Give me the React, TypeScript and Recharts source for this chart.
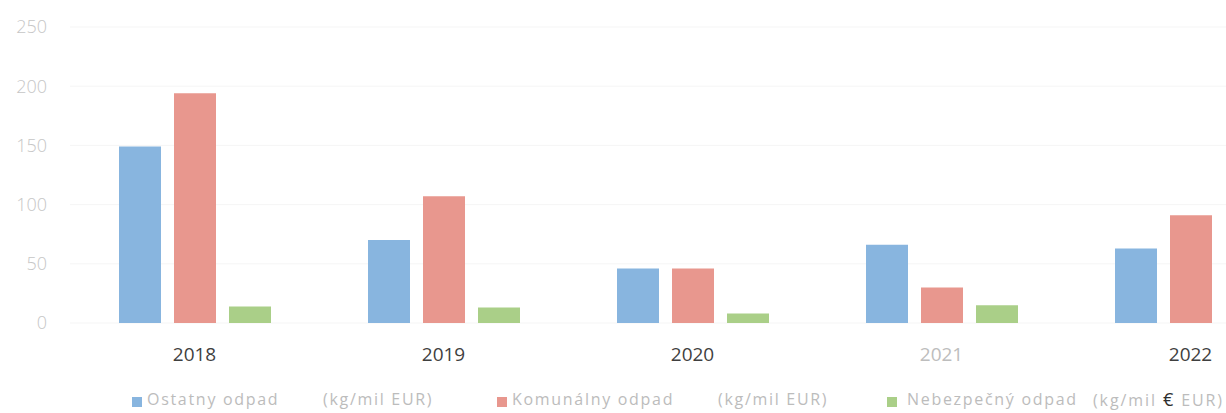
import { BarChart, Bar, XAxis, YAxis, CartesianGrid } from "recharts";

const years = ["2018", "2019", "2020", "2021", "2022"];
const ostatny = [149, 70, 46, 66, 63];
const komunalny = [194, 107, 46, 30, 91];
const nebezpecny = [14, 13, 8, 15, 0];
const yTicks = [0, 50, 100, 150, 200, 250];

const data = years.map((year, i) => ({
    year,
    ostatny: ostatny[i],
    komunalny: komunalny[i],
    nebezpecny: nebezpecny[i] || null,
}));

const colors = { ostatny: "#88b5df", komunalny: "#e8978e", nebezpecny: "#aacf88" };
const font = "'Open Sans', sans-serif";

// scan makes one label paler than the others
const yearColor = (y: string) => (y === "2021" ? "#bdbdbd" : "#3f3f3f");

const YearTick = ({ x, y, payload }: any) => (
    <text x={x} y={y} dy={12} textAnchor="middle" fill={yearColor(payload.value)} fontSize={19} fontFamily={font}>
        {payload.value}
    </text>
);

const legendItems = [
    { key: "ostatny", name: "Ostatny odpad", left: 132, textLeft: 147, unitLeft: 323 },
    { key: "komunalny", name: "Komunálny odpad", left: 497, textLeft: 512, unitLeft: 718 },
    { key: "nebezpecny", name: "Nebezpečný odpad", left: 887, textLeft: 907, unitLeft: 1093 },
];

const ChartLegend = () => (
    <div
        style={{
            position: "absolute",
            left: 0,
            top: 389,
            width: 1226,
            height: 22,
            fontFamily: font,
            fontSize: 16,
            lineHeight: "20px",
            letterSpacing: 1.7,
            color: "#bcbcbc",
        }}
    >
        {legendItems.map((it) => (
            <div key={it.key}>
                <div style={{ position: "absolute", left: it.left, top: 8, width: 10, height: 10, background: (colors as any)[it.key] }} />
                <span style={{ position: "absolute", left: it.textLeft, top: 0, whiteSpace: "pre" }}>{it.name}</span>
                {it.key === "nebezpecny" ? (
                    <span style={{ position: "absolute", left: it.unitLeft, top: 0, whiteSpace: "pre", letterSpacing: 1.9 }}>
                        (kg/mil <span style={{ color: "#2e2e2e", fontSize: 18 }}>€</span> EUR)
                    </span>
                ) : (
                    <span style={{ position: "absolute", left: it.unitLeft, top: 0, whiteSpace: "pre" }}>(kg/mil EUR)</span>
                )}
            </div>
        ))}
    </div>
);

export default function App() {
    return (
        <div style={{ position: "fixed", left: 0, top: 0, width: 1226, height: 413, overflow: "hidden", background: "#fff" }}>
            <BarChart
                width={1330}
                height={413}
                data={data}
                margin={{ top: 27, right: 15, left: 10, bottom: 60 }}
                barGap={13}
                barSize={42}
            >
                <CartesianGrid vertical={false} stroke="#f5f5f5" />
                <XAxis dataKey="year" height={30} axisLine={false} tickLine={false} tick={<YearTick />} tickMargin={20} interval={0} />
                <YAxis
                    width={60}
                    domain={[0, 250]}
                    ticks={yTicks}
                    axisLine={false}
                    tickLine={false}
                    tickSize={0}
                    tickMargin={23}
                    tick={{ fill: "#c6c6c6", fontSize: 18, fontFamily: font, fontWeight: 300 }}
                />
                <Bar dataKey="ostatny" fill={colors.ostatny} isAnimationActive={false} />
                <Bar dataKey="komunalny" fill={colors.komunalny} isAnimationActive={false} />
                <Bar dataKey="nebezpecny" fill={colors.nebezpecny} isAnimationActive={false} />
            </BarChart>
            <ChartLegend />
        </div>
    );
}
